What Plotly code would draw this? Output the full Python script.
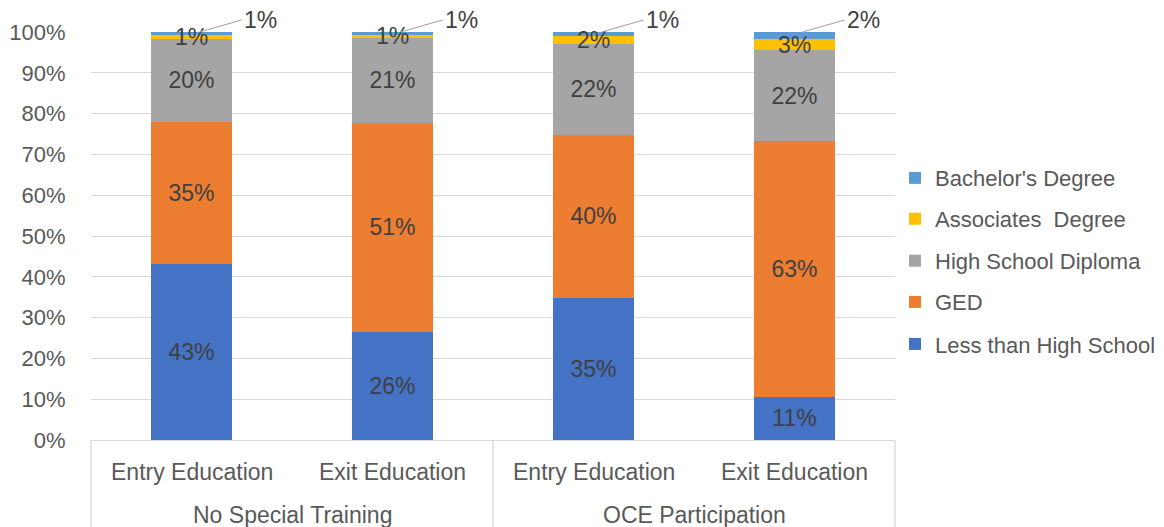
import numpy as np
import plotly.graph_objects as go

groups = ["No Special Training", "No Special Training", "OCE Participation", "OCE Participation"]
cats = ["Entry Education", "Exit Education", "Entry Education", "Exit Education"]

series_names = ["Less than High School", "GED", "High School Diploma", "Associates  Degree", "Bachelor's Degree"]
less_hs = [43.2, 26.4, 34.9, 10.6]
ged = [34.8, 51.4, 39.9, 62.6]
hs_diploma = [20.3, 20.8, 22.3, 22.4]
associates = [0.9, 0.7, 1.8, 2.6]
bachelors = [0.8, 0.7, 1.1, 1.8]
colors = ["#4472C4", "#ED7D31", "#A5A5A5", "#FFC000", "#5B9BD5"]

values = [less_hs, ged, hs_diploma, associates, bachelors]

FONT = "Liberation Sans"
FS = 23
TICK_FS = 22
LEG_FS = 22
LABEL_C = "#404040"
AXIS_C = "#595959"
LINE_C = "#D9D9D9"

fig = go.Figure()
legend_y = [0.235, 0.338, 0.439, 0.542, 0.642]
for k, (name, vals, col) in enumerate(zip(series_names, values, colors)):
    big = k < 3
    fig.add_trace(go.Bar(
        x=[groups, cats], y=vals, name=name,
        marker=dict(color=col, line=dict(width=0)),
        text=[f"{round(v)}%" for v in vals] if big else None,
        textposition="inside" if big else "none",
        insidetextanchor="middle", textangle=0, constraintext="none",
        insidetextfont=dict(family=FONT, size=FS, color=LABEL_C),
        hoverinfo="skip",
        legend="legend" if k == 0 else f"legend{k+1}",
    ))

annotations = []
cum = np.cumsum(np.array(values), axis=0)
n = len(cats)
for i in range(n):
    xc = (i + 0.5) / n
    mid_a = cum[2][i] + associates[i] / 2
    annotations.append(dict(x=xc, xref="paper", y=mid_a, yref="y", text=f"{round(associates[i])}%",
                            showarrow=False, xanchor="center",
                            font=dict(family=FONT, size=FS, color=LABEL_C)))
    annotations.append(dict(x=xc, xref="paper", y=cum[4][i], yref="y", xshift=8,
                            text=f"{round(bachelors[i])}%", showarrow=True, arrowhead=0,
                            arrowwidth=1.2, arrowcolor="#A6A6A6", ax=42, ay=-12,
                            xanchor="left", font=dict(family=FONT, size=FS, color=LABEL_C)))
    annotations.append(dict(x=xc, xref="paper", y=-0.0784, yref="paper", text=cats[i],
                            showarrow=False, xanchor="center", yanchor="middle",
                            font=dict(family=FONT, size=FS, color=AXIS_C)))

group_names = list(dict.fromkeys(groups))
for g, gname in enumerate(group_names):
    idx = [i for i, v in enumerate(groups) if v == gname]
    gx = (min(idx) + max(idx) + 1) / 2 / n
    annotations.append(dict(x=gx, xref="paper", y=-0.184, yref="paper", text=gname,
                            showarrow=False, xanchor="center", yanchor="middle",
                            font=dict(family=FONT, size=FS, color=AXIS_C)))

shapes = []
bounds = [0] + [i for i in range(1, n) if groups[i] != groups[i - 1]] + [n]
for b in bounds:
    shapes.append(dict(type="line", xref="paper", yref="paper", x0=b / n, x1=b / n,
                       y0=0, y1=-0.3, line=dict(color=LINE_C, width=1.3)))

layout_legends = {}
for k in range(5):
    key = "legend" if k == 0 else f"legend{k+1}"
    layout_legends[key] = dict(x=1.0, xanchor="left", y=legend_y[k], yanchor="middle",
                               font=dict(family=FONT, size=LEG_FS, color=AXIS_C),
                               bgcolor="rgba(0,0,0,0)")

fig.update_layout(
    width=1164, height=527,
    margin=dict(l=91, r=269, t=32, b=87, autoexpand=False),
    barmode="stack", bargap=0.6,
    plot_bgcolor="white", paper_bgcolor="white",
    font=dict(family=FONT, size=FS, color=AXIS_C),
    annotations=annotations, shapes=shapes,
    showlegend=True,
    **layout_legends,
)
fig.update_yaxes(range=[0, 100], dtick=10, ticksuffix="%", showgrid=True, gridcolor=LINE_C,
                 gridwidth=1, zeroline=False, showline=False, ticks="outside", ticklen=20,
                 tickcolor="rgba(0,0,0,0)", tickfont=dict(family=FONT, size=TICK_FS, color=AXIS_C))
fig.update_xaxes(type="multicategory", showline=True, linecolor=LINE_C, linewidth=1.3,
                 showdividers=False, showticklabels=False, ticks="")

fig.write_html("out.html")
